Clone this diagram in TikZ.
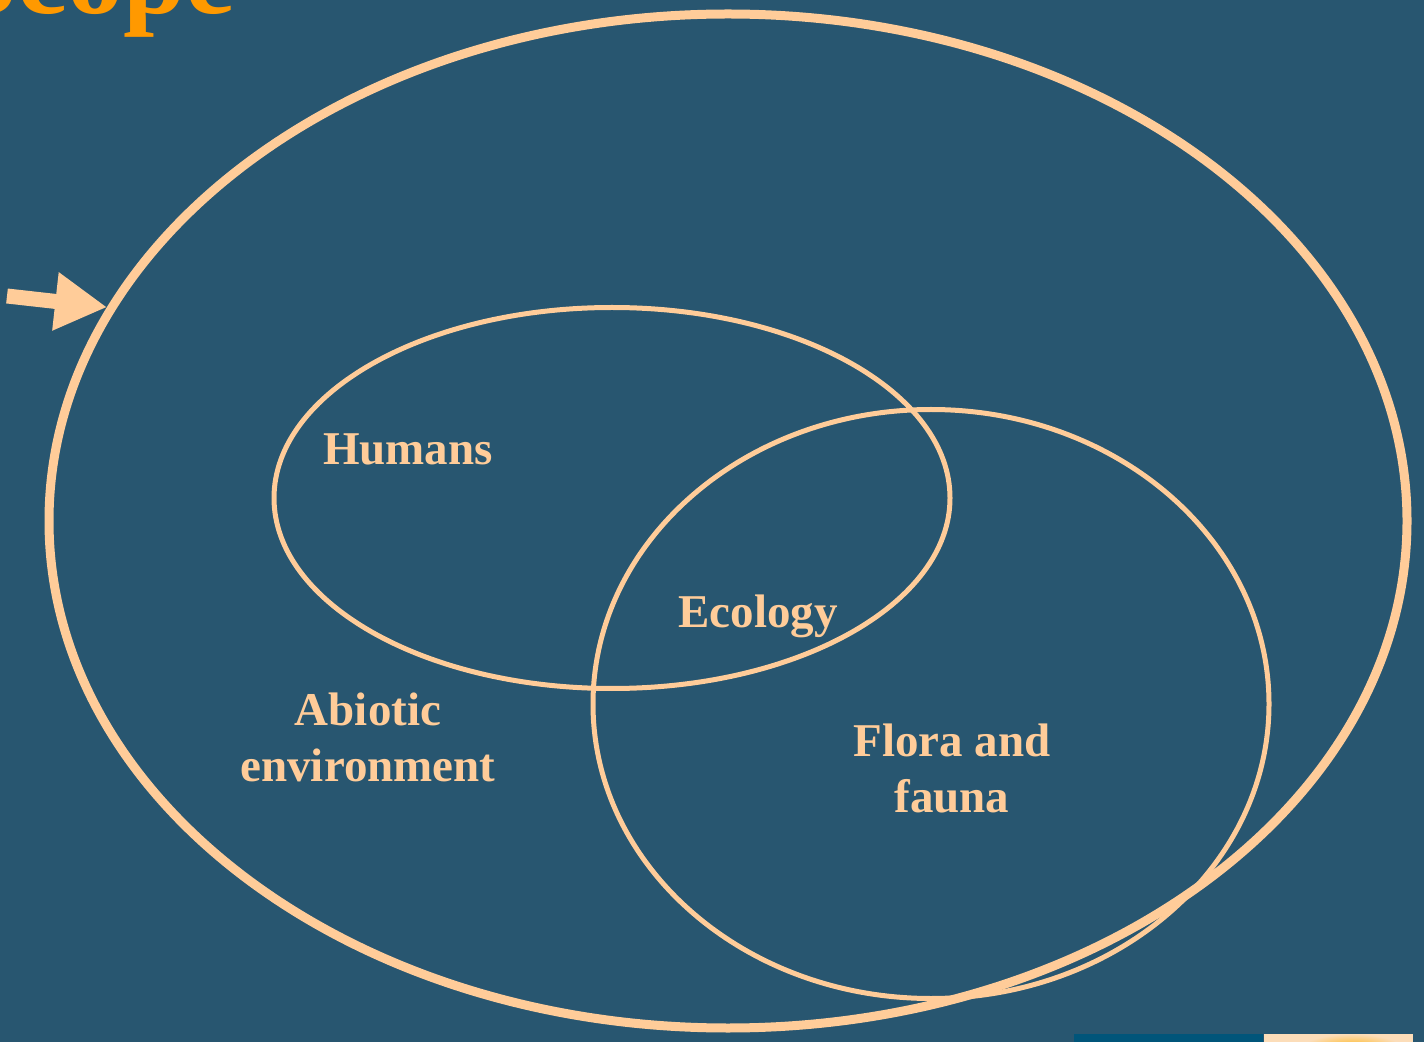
\documentclass[tikz,border=0pt]{standalone}
\usepackage{fontspec}
\setmainfont{Liberation Serif}
\usetikzlibrary{shapes.geometric,arrows.meta}
\definecolor{slate}{HTML}{285670}
\definecolor{peach}{HTML}{FFCC99}
\definecolor{amber}{HTML}{FF9900}
\definecolor{deepteal}{HTML}{00557A}
\definecolor{cream}{HTML}{FCDDB9}
\definecolor{gold}{HTML}{FFB514}
\tikzset{
    ring/.style={draw=peach,ellipse,inner sep=0pt},
    tag/.style={text=peach,font=\fontsize{23.5}{28}\selectfont\bfseries,align=center,inner sep=0pt}
}
\begin{document}
\begin{tikzpicture}[x=0.5pt,y=-0.5pt]
            \useasboundingbox (0,0) rectangle (1424,1042);
            \clip (0,0) rectangle (1424,1042);
            \fill[slate] (0,0) rectangle (1424,1042);
            % title, cut by the page edge
            \node (title) at (236,14)[anchor=base east,inner sep=0pt,text=amber,font=\fontsize{56}{60}\selectfont\bfseries]{Scope};
            % the three rings
            \node (outer) at (728,521)[ring,line width=4.5pt,minimum width=679pt,minimum height=507pt]{};
            \node (humanring) at (612,498)[ring,line width=2.5pt,minimum width=338pt,minimum height=190.5pt]{};
            \node (floraring) at (931,704)[ring,line width=2.5pt,minimum width=338pt,minimum height=294.5pt]{};
            % labels
            \node (humans) at (408,465)[tag,anchor=base]{Humans};
            \node (ecology) at (758,627)[tag,anchor=base]{Ecology};
            \node (abiotic) at (368,737)[tag]{Abiotic\\environment};
            \node (flora) at (952,768)[tag]{Flora and\\fauna};
            % pointer onto the outer ring
            \coordinate (tail) at (7,296);
            \draw[peach,line width=7.5pt,-{Triangle[length=26pt,width=27.5pt]}] (tail) -- (outer.161.5);
            % pictures cut off at the bottom edge
            \fill[deepteal] (1074,1034) rectangle (1263,1042);
            \begin{scope}
            \clip (1264,1034) rectangle (1413,1042);
            \fill[cream] (1264,1034) rectangle (1413,1042);
            \shade[inner color=gold,outer color=cream] (1352,1048) ellipse (50 and 14);
            \end{scope}
\end{tikzpicture}
\end{document}
